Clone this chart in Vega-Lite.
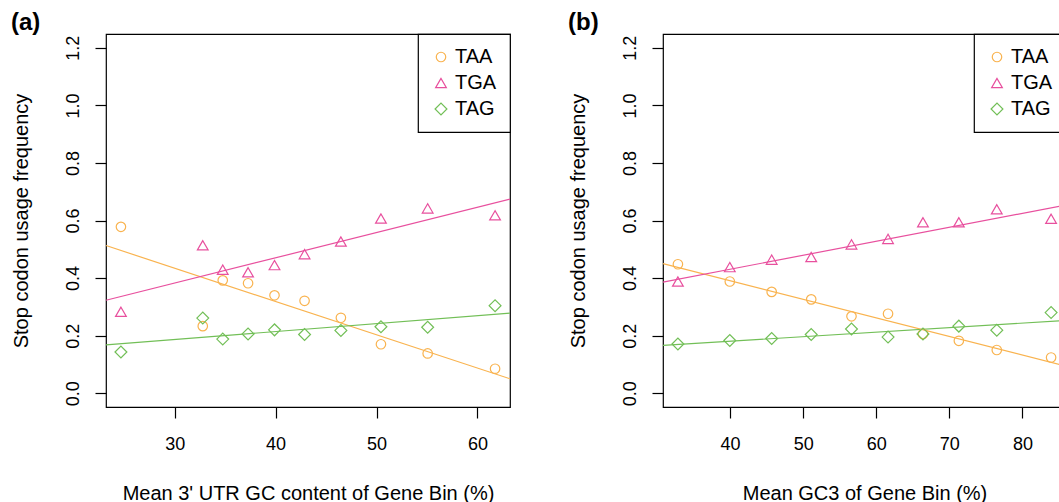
{
  "$schema": "https://vega.github.io/schema/vega-lite/v6.json",
  "background": "white",
  "padding": {"left": 10, "top": 10, "right": 0, "bottom": 0},
  "datasets": {
    "a_points": [
      {"gc": 24.67, "freq": 0.578, "codon": "TAA"},
      {"gc": 32.78, "freq": 0.233, "codon": "TAA"},
      {"gc": 34.76, "freq": 0.392, "codon": "TAA"},
      {"gc": 37.27, "freq": 0.382, "codon": "TAA"},
      {"gc": 39.89, "freq": 0.340, "codon": "TAA"},
      {"gc": 42.87, "freq": 0.321, "codon": "TAA"},
      {"gc": 46.47, "freq": 0.262, "codon": "TAA"},
      {"gc": 50.44, "freq": 0.170, "codon": "TAA"},
      {"gc": 55.07, "freq": 0.138, "codon": "TAA"},
      {"gc": 61.75, "freq": 0.085, "codon": "TAA"},
      {"gc": 24.67, "freq": 0.283, "codon": "TGA"},
      {"gc": 32.78, "freq": 0.514, "codon": "TGA"},
      {"gc": 34.76, "freq": 0.429, "codon": "TGA"},
      {"gc": 37.27, "freq": 0.420, "codon": "TGA"},
      {"gc": 39.89, "freq": 0.445, "codon": "TGA"},
      {"gc": 42.87, "freq": 0.483, "codon": "TGA"},
      {"gc": 46.47, "freq": 0.527, "codon": "TGA"},
      {"gc": 50.44, "freq": 0.607, "codon": "TGA"},
      {"gc": 55.07, "freq": 0.642, "codon": "TGA"},
      {"gc": 61.75, "freq": 0.618, "codon": "TGA"},
      {"gc": 24.67, "freq": 0.143, "codon": "TAG"},
      {"gc": 32.78, "freq": 0.261, "codon": "TAG"},
      {"gc": 34.76, "freq": 0.188, "codon": "TAG"},
      {"gc": 37.27, "freq": 0.206, "codon": "TAG"},
      {"gc": 39.89, "freq": 0.220, "codon": "TAG"},
      {"gc": 42.87, "freq": 0.204, "codon": "TAG"},
      {"gc": 46.47, "freq": 0.218, "codon": "TAG"},
      {"gc": 50.44, "freq": 0.231, "codon": "TAG"},
      {"gc": 55.07, "freq": 0.229, "codon": "TAG"},
      {"gc": 61.75, "freq": 0.304, "codon": "TAG"}
    ],
    "a_fits": [
      {"gc": 23.19, "freq": 0.513, "codon": "TAA"},
      {"gc": 63.23, "freq": 0.050, "codon": "TAA"},
      {"gc": 23.19, "freq": 0.323, "codon": "TGA"},
      {"gc": 63.23, "freq": 0.674, "codon": "TGA"},
      {"gc": 23.19, "freq": 0.168, "codon": "TAG"},
      {"gc": 63.23, "freq": 0.278, "codon": "TAG"}
    ],
    "b_points": [
      {"gc": 32.86, "freq": 0.448, "codon": "TAA"},
      {"gc": 39.96, "freq": 0.388, "codon": "TAA"},
      {"gc": 45.69, "freq": 0.352, "codon": "TAA"},
      {"gc": 51.10, "freq": 0.326, "codon": "TAA"},
      {"gc": 56.61, "freq": 0.267, "codon": "TAA"},
      {"gc": 61.61, "freq": 0.276, "codon": "TAA"},
      {"gc": 66.39, "freq": 0.206, "codon": "TAA"},
      {"gc": 71.30, "freq": 0.182, "codon": "TAA"},
      {"gc": 76.49, "freq": 0.150, "codon": "TAA"},
      {"gc": 83.92, "freq": 0.124, "codon": "TAA"},
      {"gc": 32.86, "freq": 0.388, "codon": "TGA"},
      {"gc": 39.96, "freq": 0.438, "codon": "TGA"},
      {"gc": 45.69, "freq": 0.464, "codon": "TGA"},
      {"gc": 51.10, "freq": 0.473, "codon": "TGA"},
      {"gc": 56.61, "freq": 0.517, "codon": "TGA"},
      {"gc": 61.61, "freq": 0.536, "codon": "TGA"},
      {"gc": 66.39, "freq": 0.594, "codon": "TGA"},
      {"gc": 71.30, "freq": 0.594, "codon": "TGA"},
      {"gc": 76.49, "freq": 0.639, "codon": "TGA"},
      {"gc": 83.92, "freq": 0.606, "codon": "TGA"},
      {"gc": 32.86, "freq": 0.171, "codon": "TAG"},
      {"gc": 39.96, "freq": 0.183, "codon": "TAG"},
      {"gc": 45.69, "freq": 0.190, "codon": "TAG"},
      {"gc": 51.10, "freq": 0.204, "codon": "TAG"},
      {"gc": 56.61, "freq": 0.223, "codon": "TAG"},
      {"gc": 61.61, "freq": 0.195, "codon": "TAG"},
      {"gc": 66.39, "freq": 0.206, "codon": "TAG"},
      {"gc": 71.30, "freq": 0.233, "codon": "TAG"},
      {"gc": 76.49, "freq": 0.219, "codon": "TAG"},
      {"gc": 83.92, "freq": 0.280, "codon": "TAG"}
    ],
    "b_fits": [
      {"gc": 30.82, "freq": 0.450, "codon": "TAA"},
      {"gc": 85.96, "freq": 0.094, "codon": "TAA"},
      {"gc": 30.82, "freq": 0.386, "codon": "TGA"},
      {"gc": 85.96, "freq": 0.654, "codon": "TGA"},
      {"gc": 30.82, "freq": 0.166, "codon": "TAG"},
      {"gc": 85.96, "freq": 0.253, "codon": "TAG"}
    ]
  },
  "config": {
    "font": "Liberation Sans",
    "view": {"stroke": "black", "strokeWidth": 1.2},
    "axis": {
      "domain": false, "grid": false,
      "tickColor": "black", "tickSize": 11, "tickWidth": 1.2,
      "labelFontSize": 18, "titleFontSize": 20,
      "labelColor": "black", "titleColor": "black",
      "titleFontWeight": "normal",
      "labelFont": "Liberation Sans", "titleFont": "Liberation Sans"
    },
    "legend": {
      "orient": "top-right", "offset": 0,
      "strokeColor": "black", "strokeWidth": 1.2,
      "padding": 13, "fillColor": "white",
      "labelFontSize": 20, "labelFont": "Liberation Sans", "labelColor": "black",
      "symbolSize": 90, "symbolStrokeWidth": 1.2, "labelOffset": 4,
      "rowPadding": 6, "symbolFillColor": "transparent"
    },
    "title": {"fontSize": 24, "fontWeight": "bold", "color": "black", "anchor": "start", "frame": "bounds", "font": "Liberation Sans"},
    "concat": {"spacing": 54}
  },
  "hconcat": [
    {
      "width": 404, "height": 373,
      "title": {"text": "(a)", "offset": -2},
      "layer": [
        {
          "data": {"name": "a_fits"},
          "mark": {"type": "line", "strokeWidth": 1.2},
          "encoding": {
            "x": {"field": "gc", "type": "quantitative", "scale": {"domain": [23.19, 63.23], "nice": false, "zero": false}},
            "y": {"field": "freq", "type": "quantitative", "scale": {"domain": [-0.048, 1.248], "nice": false, "zero": false}},
            "color": {"field": "codon", "type": "nominal", "scale": {"domain": ["TAA", "TGA", "TAG"], "range": ["#F9B34F", "#E8509E", "#72BF57"]}},
            "detail": {"field": "codon"}
          }
        },
        {
          "data": {"name": "a_points"},
          "mark": {"type": "point", "filled": false, "strokeWidth": 1.2, "opacity": 1},
          "encoding": {
            "x": {"field": "gc", "type": "quantitative", "axis": {"values": [30, 40, 50, 60], "labelPadding": 17, "title": "Mean 3' UTR GC content of Gene Bin (%)", "titlePadding": 30}},
            "y": {"field": "freq", "type": "quantitative", "axis": {"values": [0, 0.2, 0.4, 0.6, 0.8, 1.0, 1.2], "format": ".1f", "labelAngle": -90, "labelAlign": "center", "labelBaseline": "bottom", "labelPadding": 13, "title": "Stop codon usage frequency", "titlePadding": 33}},
            "color": {"field": "codon", "type": "nominal", "legend": {"title": null}},
            "shape": {"field": "codon", "type": "nominal", "scale": {"domain": ["TAA", "TGA", "TAG"], "range": ["circle", "triangle-up", "diamond"]}, "legend": {"title": null}},
            "size": {"field": "codon", "type": "nominal", "scale": {"domain": ["TAA", "TGA", "TAG"], "range": [90, 140, 135]}, "legend": null}
          }
        }
      ]
    },
    {
      "width": 403, "height": 373,
      "title": {"text": "(b)", "offset": -2},
      "layer": [
        {
          "data": {"name": "b_fits"},
          "mark": {"type": "line", "strokeWidth": 1.2},
          "encoding": {
            "x": {"field": "gc", "type": "quantitative", "scale": {"domain": [30.82, 85.96], "nice": false, "zero": false}},
            "y": {"field": "freq", "type": "quantitative", "scale": {"domain": [-0.048, 1.248], "nice": false, "zero": false}},
            "color": {"field": "codon", "type": "nominal", "scale": {"domain": ["TAA", "TGA", "TAG"], "range": ["#F9B34F", "#E8509E", "#72BF57"]}},
            "detail": {"field": "codon"}
          }
        },
        {
          "data": {"name": "b_points"},
          "mark": {"type": "point", "filled": false, "strokeWidth": 1.2, "opacity": 1},
          "encoding": {
            "x": {"field": "gc", "type": "quantitative", "axis": {"values": [40, 50, 60, 70, 80], "labelPadding": 17, "title": "Mean GC3 of Gene Bin (%)", "titlePadding": 30}},
            "y": {"field": "freq", "type": "quantitative", "axis": {"values": [0, 0.2, 0.4, 0.6, 0.8, 1.0, 1.2], "format": ".1f", "labelAngle": -90, "labelAlign": "center", "labelBaseline": "bottom", "labelPadding": 13, "title": "Stop codon usage frequency", "titlePadding": 33}},
            "color": {"field": "codon", "type": "nominal", "legend": {"title": null}},
            "shape": {"field": "codon", "type": "nominal", "scale": {"domain": ["TAA", "TGA", "TAG"], "range": ["circle", "triangle-up", "diamond"]}, "legend": {"title": null}},
            "size": {"field": "codon", "type": "nominal", "scale": {"domain": ["TAA", "TGA", "TAG"], "range": [90, 140, 135]}, "legend": null}
          }
        }
      ]
    }
  ],
  "resolve": {"scale": {"color": "independent", "shape": "independent", "size": "independent", "x": "independent"}}
}
